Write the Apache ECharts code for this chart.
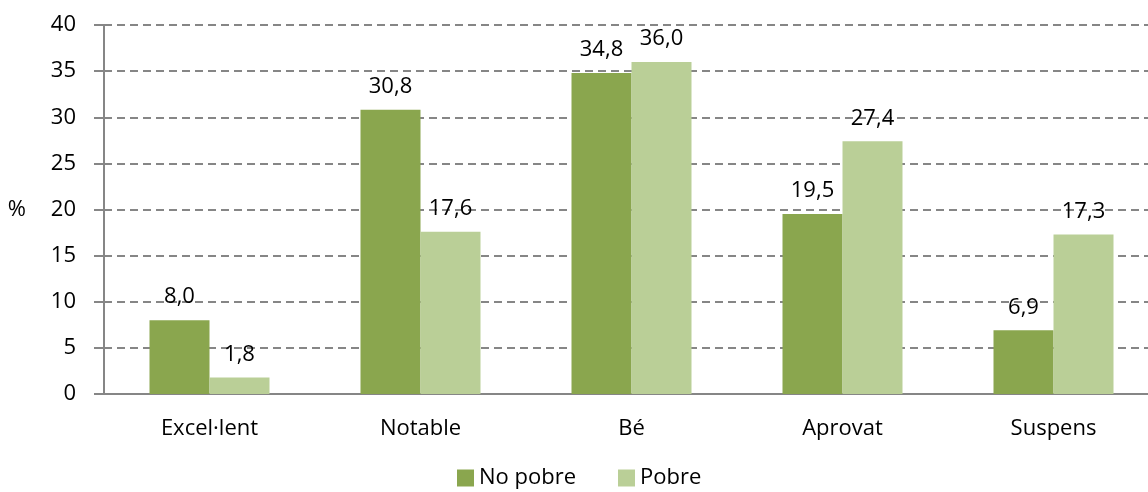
<!DOCTYPE html>
<html>
<head>
    <meta charset="utf-8"/>
    <title>Nota per pobresa</title>
</head>
<body style="margin:0">
<div id="main" style="width: 1148px;height:492px;"></div>
<script src="https://cdn.jsdelivr.net/npm/echarts@6/dist/echarts.min.js"></script>
<script>
    var categories = ["Excel·lent", "Notable", "Bé", "Aprovat", "Suspens"];
    var noPobre = [8.0, 30.8, 34.8, 19.5, 6.9];
    var pobre = [1.8, 17.6, 36.0, 27.4, 17.3];

    var chart = echarts.init(document.getElementById('main'));
    var fnt = '"Open Sans", sans-serif';

    function fmt(p) {
        return p.value.toFixed(1).replace('.', ',');
    }

    var option = {
        textStyle: {fontFamily: fnt},
        grid: {left: 104, width: 1055, top: 25, bottom: 98, outerBoundsMode: 'none'},
        legend: {
            bottom: -2,
            left: 452,
            icon: 'rect',
            itemWidth: 17,
            itemHeight: 17,
            itemGap: 42,
            textStyle: {fontSize: 22, color: '#000', fontFamily: fnt},
            data: ['No pobre', 'Pobre']
        },
        xAxis: {
            type: 'category',
            data: categories,
            axisLine: {lineStyle: {color: '#868686', width: 2}},
            axisTick: {show: false},
            axisLabel: {fontSize: 22, color: '#000', margin: 24, fontFamily: fnt}
        },
        yAxis: {
            type: 'value',
            min: 0,
            max: 40,
            interval: 5,
            name: '%',
            nameLocation: 'middle',
            nameRotate: 0,
            nameGap: 78,
            nameTextStyle: {fontSize: 22, color: '#000', fontFamily: fnt},
            axisLine: {show: true, lineStyle: {color: '#868686', width: 2}},
            axisTick: {show: true, length: 10, lineStyle: {color: '#868686', width: 2}},
            axisLabel: {fontSize: 22, color: '#000', margin: 28, fontFamily: fnt},
            splitLine: {lineStyle: {color: '#868686', width: 2, type: [8, 5]}}
        },
        series: [{
            name: 'No pobre',
            type: 'bar',
            data: noPobre,
            barWidth: 60,
            barGap: '0%',
            itemStyle: {color: '#8aa64e'},
            label: {show: true, position: 'top', distance: 12, fontSize: 22, color: '#000', formatter: fmt}
        }, {
            name: 'Pobre',
            type: 'bar',
            data: pobre,
            barWidth: 60,
            itemStyle: {color: '#bacf97'},
            label: {show: true, position: 'top', distance: 12, fontSize: 22, color: '#000', formatter: fmt}
        }]
    };

    chart.setOption(option);
</script>
</body>
</html>
